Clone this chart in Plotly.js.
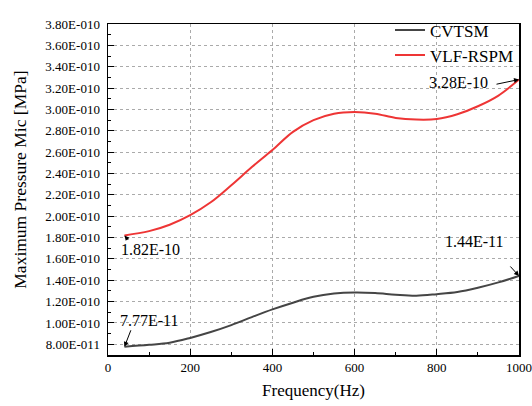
<!DOCTYPE html>
<html>
<head>
<meta charset="utf-8">
<script src="https://cdn.plot.ly/plotly-3.0.1.min.js"></script>
<style>html,body{margin:0;padding:0;background:#fff;}#chart{width:532px;height:406px;}</style>
</head>
<body>
<div id="chart"></div>
<script>
var freq = [40, 100, 150, 200, 250, 300, 350, 400, 450, 500, 550, 600, 650, 700, 750, 800, 850, 900, 950, 1000];
var cvtsm = [0.777e-10, 0.795e-10, 0.815e-10, 0.86e-10, 0.915e-10, 0.98e-10, 1.055e-10, 1.127e-10, 1.19e-10, 1.245e-10, 1.275e-10, 1.285e-10, 1.28e-10, 1.265e-10, 1.256e-10, 1.27e-10, 1.29e-10, 1.33e-10, 1.38e-10, 1.44e-10];
var vlf = [1.82e-10, 1.86e-10, 1.92e-10, 2.01e-10, 2.13e-10, 2.29e-10, 2.46e-10, 2.62e-10, 2.79e-10, 2.90e-10, 2.96e-10, 2.975e-10, 2.96e-10, 2.92e-10, 2.905e-10, 2.91e-10, 2.955e-10, 3.03e-10, 3.13e-10, 3.28e-10];
var seriesNames = ["CVTSM", "VLF-RSPM"];
var yTickVals = [0.8e-10, 1.0e-10, 1.2e-10, 1.4e-10, 1.6e-10, 1.8e-10, 2.0e-10, 2.2e-10, 2.4e-10, 2.6e-10, 2.8e-10, 3.0e-10, 3.2e-10, 3.4e-10, 3.6e-10, 3.8e-10];
var yTickText = ["8.00E-011", "1.00E-010", "1.20E-010", "1.40E-010", "1.60E-010", "1.80E-010", "2.00E-010", "2.20E-010", "2.40E-010", "2.60E-010", "2.80E-010", "3.00E-010", "3.20E-010", "3.40E-010", "3.60E-010", "3.80E-010"];
var labelStartVlf = "1.82E-10", labelEndVlf = "3.28E-10", labelStartCv = "7.77E-11", labelEndCv = "1.44E-11";
var xTitle = "Frequency(Hz)", yTitle = "Maximum Pressure Mic [MPa]";

var font = "Liberation Serif";
var traces = [
  {x: freq, y: cvtsm, name: seriesNames[0], type: "scatter", mode: "lines", line: {color: "#454545", width: 2, shape: "spline"}},
  {x: freq, y: vlf, name: seriesNames[1], type: "scatter", mode: "lines", line: {color: "#ee3535", width: 2, shape: "spline"}}
];
var n = freq.length - 1;
function arrow(x, y, ax, ay) {
  return {x: x, y: y, xref: "x", yref: "y", text: "", showarrow: true, ax: ax, ay: ay,
          arrowhead: 2, arrowsize: 1, arrowwidth: 1, arrowcolor: "#000", standoff: 0, startstandoff: 0};
}
function label(x, y, t, xs, ys) {
  return {x: x, y: y, xref: "x", yref: "y", text: t, showarrow: false, xshift: xs, yshift: ys,
          font: {family: font, size: 16, color: "#000"}};
}
var layout = {
  width: 532, height: 406,
  margin: {l: 108, r: 13, t: 17, b: 51},
  paper_bgcolor: "#fff", plot_bgcolor: "#fff",
  font: {family: font, color: "#000"},
  showlegend: true,
  legend: {x: 1, xanchor: "right", y: 1.035, yanchor: "top", bgcolor: "rgba(0,0,0,0)", borderwidth: 0,
           font: {family: font, size: 17, color: "#000"}, tracegroupgap: 0},
  xaxis: {
    range: [0, 1000], tickmode: "linear", tick0: 0, dtick: 200,
    ticks: "inside", ticklen: 6, tickwidth: 1, tickcolor: "#000",
    showline: true, linecolor: "#000", linewidth: 1.5, mirror: true,
    showgrid: true, gridcolor: "#aaaaaa", griddash: "dot", gridwidth: 1,
    zeroline: false,
    tickfont: {family: font, size: 13, color: "#000"},
    minor: {tickmode: "linear", tick0: 0, dtick: 100, ticks: "inside", ticklen: 3, tickcolor: "#000", showgrid: false},
    title: {text: xTitle, font: {family: font, size: 17, color: "#000"}, standoff: 10}
  },
  yaxis: {
    range: [0.7e-10, 3.8e-10], tickmode: "array", tickvals: yTickVals, ticktext: yTickText,
    ticks: "inside", ticklen: 6, tickwidth: 1, tickcolor: "#000",
    showline: true, linecolor: "#000", linewidth: 1.5, mirror: true,
    showgrid: true, gridcolor: "#aaaaaa", griddash: "dot", gridwidth: 1,
    zeroline: false,
    tickfont: {family: font, size: 13, color: "#000"},
    ticklabelstandoff: 4,
    minor: {tickmode: "linear", tick0: 0.7e-10, dtick: 0.1e-10, ticks: "inside", ticklen: 3, tickcolor: "#000", showgrid: false},
    title: {text: ""}
  },
  annotations: [
    {xref: "paper", yref: "paper", x: -0.213, y: 0.531, xanchor: "center", yanchor: "middle",
     text: yTitle, textangle: -90, showarrow: false, font: {family: font, size: 17.5, color: "#000"}},
    arrow(freq[0], vlf[0], 5, 6),
    label(freq[0], vlf[0], labelStartVlf, 26, -14),
    arrow(freq[0], cvtsm[0], 7, -18),
    label(freq[0], cvtsm[0], labelStartCv, 25, 26),
    arrow(freq[n], vlf[n], -24, 5),
    label(freq[n], vlf[n], labelEndVlf, -61, -3),
    arrow(freq[n], cvtsm[n], -10, -11),
    label(freq[n], cvtsm[n], labelEndCv, -45, 34)
  ]
};
Plotly.newPlot("chart", traces, layout, {displayModeBar: false, staticPlot: true});
</script>
</body>
</html>
